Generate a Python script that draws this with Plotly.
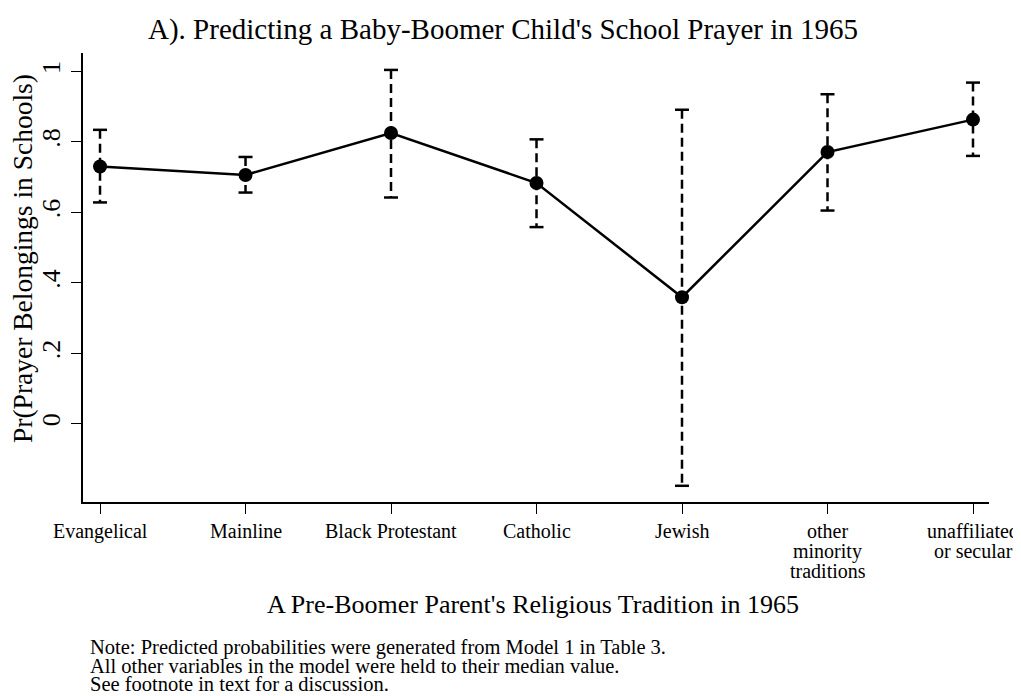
import plotly.graph_objects as go

categories = ["Evangelical", "Mainline", "Black Protestant", "Catholic",
              "Jewish", "other<br>minority<br>traditions", "unaffiliated<br>or secular"]
prob = [0.730, 0.706, 0.825, 0.683, 0.359, 0.771, 0.863]
ci_low = [0.628, 0.656, 0.642, 0.558, -0.176, 0.605, 0.760]
ci_high = [0.834, 0.757, 1.004, 0.807, 0.891, 0.935, 0.968]

y_tickvals = [0, 0.2, 0.4, 0.6, 0.8, 1]
y_ticktext = ["0", ".2", ".4", ".6", ".8", "1"]

note_lines = [
    "Note: Predicted probabilities were generated from Model 1 in Table 3.",
    "All other variables in the model were held to their median value.",
    "See footnote in text for a discussion.",
]

FONT = "Liberation Serif"
OFF = 8  # page body margin
W, H = 1021 - OFF, 696 - OFF
L, R, T, B = 83 - OFF, 32, 53 - OFF, 194
xpos = list(range(len(categories)))


def px(x):
    # screenshot pixel -> paper x
    return (x - OFF - L) / (W - L - R)


def py(y):
    return (H - B - (y - OFF)) / (H - T - B)


fig = go.Figure()

# dashed confidence interval lines
seg_x, seg_y = [], []
for i in xpos:
    seg_x += [i, i, None]
    seg_y += [ci_high[i], ci_low[i], None]
fig.add_trace(go.Scatter(
    x=seg_x, y=seg_y, mode="lines",
    line=dict(color="black", width=2.5, dash="9px,5px"),
    hoverinfo="skip", showlegend=False
))

# caps
fig.add_trace(go.Scatter(
    x=xpos + xpos, y=ci_low + ci_high, mode="markers",
    marker=dict(symbol="line-ew", size=10, line=dict(color="black", width=2.5)),
    hoverinfo="skip", showlegend=False
))

# predicted probabilities
fig.add_trace(go.Scatter(
    x=xpos, y=prob, mode="lines+markers",
    line=dict(color="black", width=2.5),
    marker=dict(size=14, color="black"),
    showlegend=False
))

fig.update_layout(
    width=W, height=H,
    paper_bgcolor="white", plot_bgcolor="white",
    margin=dict(l=L, r=R, t=T, b=B),
    font=dict(family=FONT, color="black"),
    xaxis=dict(
        range=[-0.117, 6.11], tickmode="array", tickvals=xpos, showticklabels=False,
        showline=True, linecolor="black", linewidth=1.5, automargin=False,
        ticks="outside", ticklen=10, tickwidth=1.2, tickcolor="black",
        showgrid=False, zeroline=False,
    ),
    yaxis=dict(
        range=[-0.222, 1.052], tickmode="array", tickvals=y_tickvals, ticktext=y_ticktext,
        showline=True, linecolor="black", linewidth=1.5, automargin=False,
        ticks="outside", ticklen=10, tickwidth=1.2, tickcolor="black",
        tickangle=-90, tickfont=dict(size=26, family=FONT), ticklabelstandoff=1,
        showgrid=False, zeroline=False,
    ),
)

# category labels, one annotation per line for tight line spacing
for i, cat in enumerate(categories):
    for k, part in enumerate(cat.split("<br>")):
        fig.add_annotation(
            text=part, xref="x", yref="paper", x=i, y=py(531 + 20 * k),
            xanchor="center", yanchor="middle", showarrow=False,
            font=dict(size=20, family=FONT, color="black"))

# titles
fig.add_annotation(
    text="A). Predicting a Baby-Boomer Child's School Prayer in 1965",
    xref="paper", yref="paper", x=px(503), y=py(29), xanchor="center", yanchor="middle",
    showarrow=False, font=dict(size=29, family=FONT, color="black"))
fig.add_annotation(
    text="A Pre-Boomer Parent's Religious Tradition in 1965",
    xref="paper", yref="paper", x=px(533), y=py(604), xanchor="center", yanchor="middle",
    showarrow=False, font=dict(size=26, family=FONT, color="black"))
fig.add_annotation(
    text="Pr(Prayer Belongings in Schools)", textangle=-90,
    xref="paper", yref="paper", x=px(23), y=py(259), xanchor="center", yanchor="middle",
    showarrow=False, font=dict(size=27.5, family=FONT, color="black"))

# note
for k, line in enumerate(note_lines):
    fig.add_annotation(
        text=line, xref="paper", yref="paper", x=px(88), y=py(647 + 18.5 * k),
        xanchor="left", yanchor="middle", align="left", showarrow=False,
        font=dict(size=20.5, family=FONT, color="black"))

fig.write_html("out.html")
